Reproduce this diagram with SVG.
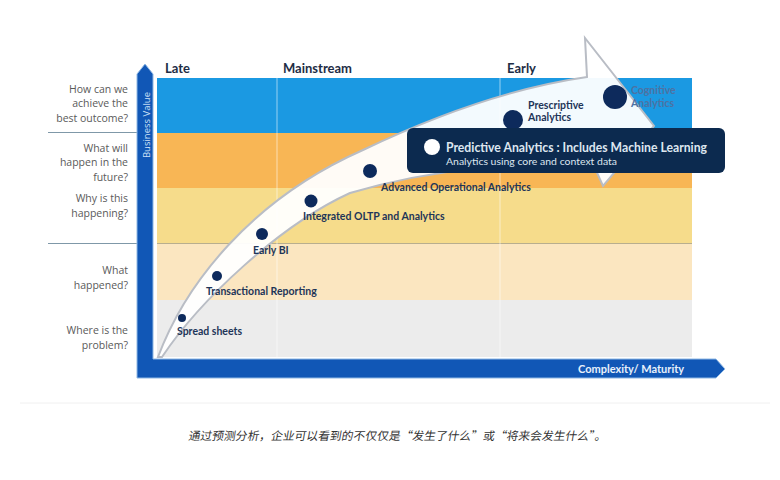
<svg xmlns="http://www.w3.org/2000/svg" width="780" height="480" viewBox="0 0 780 480">
<style>
.q{font-family:"Open Sans","Liberation Sans",sans-serif;font-size:10.5px;fill:#5a5a5a;text-anchor:end}
.hd{font-family:Lato,"Liberation Sans",sans-serif;font-weight:700;font-size:13px;fill:#1e2d45}
.lb{font-family:Lato,"Liberation Sans",sans-serif;font-weight:700;font-size:10.5px;fill:#1e3558}
.cg{font-family:Lato,"Liberation Sans",sans-serif;font-weight:700;font-size:10.5px;fill:#4d72a3}
.dot{fill:#0d2a5c}
.grid{stroke:#ffffff;stroke-opacity:0.55;stroke-width:1}
</style>
<rect width="780" height="480" fill="#ffffff"/>
<g id="bands">
<rect x="157" y="78" width="535" height="55" fill="#1b99e2"/>
<rect x="157" y="133" width="535" height="55" fill="#f8b655"/>
<rect x="157" y="188" width="535" height="55" fill="#f6dc8b"/>
<rect x="157" y="243" width="535" height="57" fill="#fbe6c0"/>
<rect x="157" y="300" width="535" height="57" fill="#ececec"/>
<line x1="157" y1="243.5" x2="692" y2="243.5" stroke="#b8ae8e" stroke-width="1"/>
<line class="grid" x1="277" y1="78" x2="277" y2="357"/>
<line class="grid" x1="500" y1="78" x2="500" y2="357"/>
</g>
<g id="left-labels">
<line x1="48" y1="132.5" x2="137" y2="132.5" stroke="#7f98a8" stroke-width="1.2"/>
<line x1="48" y1="243.5" x2="137" y2="243.5" stroke="#7f98a8" stroke-width="1.2"/>
<text class="q" x="128" y="93">How can we</text>
<text class="q" x="128" y="107">achieve the</text>
<text class="q" x="128" y="122">best outcome?</text>
<text class="q" x="128" y="152">What will</text>
<text class="q" x="128" y="166">happen in the</text>
<text class="q" x="128" y="181">future?</text>
<text class="q" x="128" y="202">Why is this</text>
<text class="q" x="128" y="217">happening?</text>
<text class="q" x="128" y="274">What</text>
<text class="q" x="128" y="289">happened?</text>
<text class="q" x="128" y="334">Where is the</text>
<text class="q" x="128" y="349">problem?</text>
</g>
<g id="headers">
<text class="hd" x="165" y="73">Late</text>
<text class="hd" x="283" y="73">Mainstream</text>
<text class="hd" x="507" y="73">Early</text>
</g>
<g id="axes">
<path d="M137,378 L137,74 L145,64 L153,74 L153,359 L716,359 L725,369 L716,378 Z" fill="#1157b6" stroke="#8fb8e4" stroke-width="1"/>
<text x="150" y="125" transform="rotate(-90 150 125)" text-anchor="middle" font-family="Open Sans,Liberation Sans,sans-serif" font-size="9.5" fill="#cfe2f6">Business Value</text>
<text x="578" y="373" font-family="Lato,Liberation Sans,sans-serif" font-weight="700" font-size="11" fill="#e8f1fb">Complexity/ Maturity</text>
</g>
<g id="connectors">
<path id="sweep" d="M158,357 C185,285 250,200 363,150 C430,118 510,88 587,77 L585,38 L654,126 L603,186 L594,166 C520,164 440,166 350,193 C280,225 200,300 162,357 Z" fill="#ffffff" fill-opacity="0.95" stroke="#b9bdc5" stroke-width="2" stroke-linejoin="miter"/>
</g>
<g id="node-spread"><circle class="dot" cx="182" cy="318" r="4"/><text class="lb" x="177" y="335">Spread sheets</text></g>
<g id="node-transactional"><circle class="dot" cx="217" cy="276" r="5"/><text class="lb" x="206" y="295">Transactional Reporting</text></g>
<g id="node-earlybi"><circle class="dot" cx="262" cy="234" r="6"/><text class="lb" x="253" y="254">Early BI</text></g>
<g id="node-oltp"><circle class="dot" cx="311" cy="201" r="6.5"/><text class="lb" x="303" y="220">Integrated OLTP and Analytics</text></g>
<g id="node-advanced"><circle class="dot" cx="370" cy="171" r="7"/><text class="lb" x="381" y="191">Advanced Operational Analytics</text></g>
<g id="node-prescriptive"><circle class="dot" cx="513" cy="120" r="10"/><text class="lb" x="528" y="109">Prescriptive</text><text class="lb" x="528" y="121">Analytics</text></g>
<g id="node-cognitive"><circle class="dot" cx="615" cy="97" r="12"/><text class="cg" x="631" y="94">Cognitive</text><text class="cg" x="631" y="107">Analytics</text></g>
<g id="node-predictive">
<rect x="407" y="128" width="318" height="45" rx="6" fill="#0c2a4f"/>
<circle cx="432" cy="147" r="8" fill="#ffffff"/>
<text x="446" y="152" font-family="Lato,Liberation Sans,sans-serif" font-weight="700" font-size="13" fill="#dde6f0" textLength="261" lengthAdjust="spacingAndGlyphs">Predictive Analytics : Includes Machine Learning</text>
<text x="446" y="165" font-family="Lato,Liberation Sans,sans-serif" font-size="10" fill="#dde6f0" textLength="171" lengthAdjust="spacingAndGlyphs">Analytics using core and context data</text>
</g>
<line x1="20" y1="403" x2="770" y2="403" stroke="#f0f0f0" stroke-width="1"/>
<g transform="skewX(-10)">
<text x="265.6" y="440" font-family="Noto Sans CJK SC,sans-serif" font-size="11.5" fill="#333333" textLength="418" lengthAdjust="spacingAndGlyphs">通过预测分析，企业可以看到的不仅仅是“发生了什么”或“将来会发生什么”。</text>
</g>
</svg>
